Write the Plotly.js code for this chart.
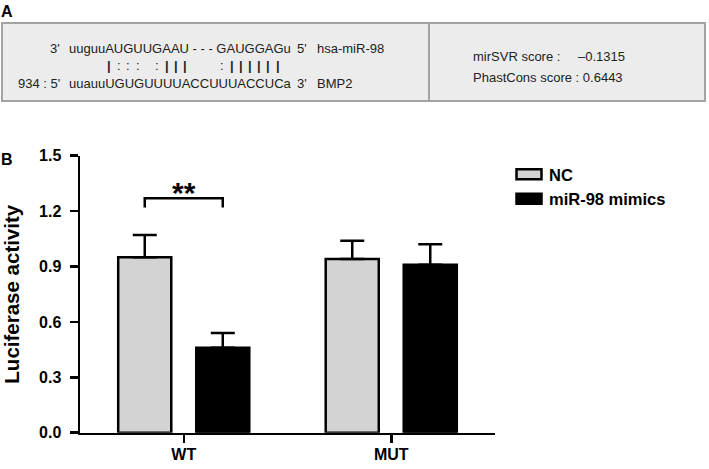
<!DOCTYPE html>
<html>
<head>
<meta charset="utf-8">
<script src="https://cdn.plot.ly/plotly-3.0.1.min.js"></script>
<style>html,body{margin:0;padding:0;background:#fff;}#chart{width:709px;height:469px;}</style>
</head>
<body>
<div id="chart"></div>
<script>
// ---- data ----
const categories = ['WT', 'MUT'];
const seriesNames = ['NC', 'miR-98 mimics'];
const ncValues = [0.95, 0.94];
const ncErrors = [0.12, 0.10];
const mimicValues = [0.46, 0.91];
const mimicErrors = [0.08, 0.11];
const yTickValues = [0.0, 0.3, 0.6, 0.9, 1.2, 1.5];
const sigLabel = '**';
const sigBracket = [1.22, 1.27]; // leg bottom, bracket top (y units)
const sigLabelY = 1.30;

// panel A text
const mirLine = ["3'", "uuguuAUGUUGAAU - - - GAUGGAGu", "5'", "hsa-miR-98"];
const targetLine = ["934 : 5'", "uuauuUGUGUUUUACCUUUACCUCa", "3'", "BMP2"];
const matchLine = "     |::: :|||   :|||||| ";
const scoreLabels = ["mirSVR score :", "PhastCons score : 0.6443"];
const scoreValue = "\u20130.1315";

// ---- layout helpers (figure pixel -> paper) ----
const W = 709, H = 469;
const px = x => x / W;
const py = y => 1 - y / H;
const FONT = 'Liberation Sans, Arial, Helvetica, sans-serif';
const black = '#000';

const bargap = 0.248;
const barOffset = (1 - bargap) / 4;

const traces = [
  {
    type: 'bar', name: seriesNames[0], x: categories, y: ncValues,
    marker: {color: '#d3d3d3', line: {color: black, width: 2.5}},
    error_y: {type: 'data', symmetric: false, array: ncErrors, arrayminus: [0, 0],
              color: black, thickness: 2.5, width: 12},
    legendgroup: 'a'
  },
  {
    type: 'bar', name: seriesNames[1], x: categories, y: mimicValues,
    marker: {color: '#000000', line: {color: black, width: 2.5}},
    error_y: {type: 'data', symmetric: false, array: mimicErrors, arrayminus: [0, 0],
              color: black, thickness: 2.5, width: 12},
    legendgroup: 'b'
  }
];

// canvas measure for alignment of pairing marks
const cv = document.createElement('canvas').getContext('2d');
cv.font = '13px "Liberation Sans", Arial, sans-serif';
const seqStartX = 68;
const shapes = [
  {type: 'rect', xref: 'paper', yref: 'paper', x0: px(2), x1: px(705), y0: py(101), y1: py(23),
   fillcolor: '#ececec', line: {color: '#a3a3a3', width: 2}, layer: 'below'},
  {type: 'line', xref: 'paper', yref: 'paper', x0: px(429), x1: px(429), y0: py(101), y1: py(23),
   line: {color: '#a3a3a3', width: 2}},
  {type: 'path', xref: 'x', yref: 'y',
   path: `M ${0 - barOffset},${sigBracket[0]} L ${0 - barOffset},${sigBracket[1]} L ${0 + barOffset},${sigBracket[1]} L ${0 + barOffset},${sigBracket[0]}`,
   line: {color: black, width: 2.5}}
];

const ann = [];
function txt(x, y, text, size, opts) {
  ann.push(Object.assign({xref: 'paper', yref: 'paper', x: px(x), y: py(y), text: text,
    showarrow: false, xanchor: 'left', yanchor: 'middle', borderpad: 0,
    font: {family: FONT, size: size, color: '#222'}}, opts || {}));
}
// panel labels
txt(0, 12, '<b>A</b>', 16, {font: {family: FONT, size: 16, color: black}});
txt(0, 160, '<b>B</b>', 16, {font: {family: FONT, size: 16, color: black}});
// sequences
txt(49, 48, mirLine[0], 13); txt(seqStartX, 48, mirLine[1], 13);
txt(296, 48, mirLine[2], 13); txt(316, 48, mirLine[3], 13);
txt(17, 83, targetLine[0], 13); txt(seqStartX, 83, targetLine[1], 13);
txt(296, 83, targetLine[2], 13); txt(316, 83, targetLine[3], 13);
// pairing marks, centred on target letters
for (let i = 0; i < matchLine.length; i++) {
  const ch = matchLine[i];
  if (ch === ' ') continue;
  const left = cv.measureText(targetLine[1].slice(0, i)).width;
  const w = cv.measureText(targetLine[1][i]).width;
  ann.push({xref: 'paper', yref: 'paper', x: px(seqStartX + left + w / 2), y: py(65),
    text: ch === '|' ? '<b>|</b>' : ':', showarrow: false, xanchor: 'center', yanchor: 'middle', borderpad: 0,
    font: {family: FONT, size: 13, color: '#222'}});
}
// scores
txt(472, 57, scoreLabels[0], 13); txt(577, 57, scoreValue, 13);
txt(472, 77, scoreLabels[1], 13);
// significance
ann.push({xref: 'x', yref: 'y', x: 0, y: sigLabelY, text: '<b>' + sigLabel + '</b>', showarrow: false,
  xanchor: 'center', yanchor: 'middle', borderpad: 0, font: {family: FONT, size: 30, color: black}});

const layout = {
  width: W, height: H,
  margin: {l: 0, r: 0, t: 0, b: 0},
  paper_bgcolor: '#fff', plot_bgcolor: '#fff',
  barmode: 'group', bargap: bargap, bargroupgap: 0.32,
  showlegend: true,
  legend: {x: px(509), y: py(157), xanchor: 'left', yanchor: 'top', tracegroupgap: 0,
           traceorder: 'grouped', bgcolor: 'rgba(0,0,0,0)',
           font: {family: FONT, size: 16.5, color: black, weight: 'bold'}},
  xaxis: {domain: [px(80), px(495)], type: 'category', range: [-0.5, 1.5],
          showline: true, linecolor: black, linewidth: 2.5,
          ticks: 'outside', ticklen: 8, tickwidth: 2.5, tickcolor: black,
          ticklabelstandoff: -2,
          tickfont: {family: FONT, size: 16, color: black, weight: 'bold'},
          showgrid: false, zeroline: false, automargin: false, fixedrange: true},
  yaxis: {domain: [py(432.7), py(155.7)], range: [0, 1.5],
          tickvals: yTickValues, tickformat: '.1f',
          showline: true, linecolor: black, linewidth: 2.5,
          ticks: 'outside', ticklen: 8, tickwidth: 2.5, tickcolor: black,
          ticklabelstandoff: 5,
          tickfont: {family: FONT, size: 16, color: black, weight: 'bold'},
          title: {text: 'Luciferase activity', standoff: 17,
                  font: {family: FONT, size: 20.5, color: black, weight: 'bold'}},
          showgrid: false, zeroline: false, automargin: false, fixedrange: true},
  shapes: shapes,
  annotations: ann
};

Plotly.newPlot('chart', traces, layout, {displayModeBar: false, staticPlot: true}).then(gd => {
  // widen the legend swatches to flat bars like the original key
  gd.querySelectorAll('.legend .legendpoints path').forEach(p => {
    p.setAttribute('d', 'M12.5,5H-12.5V-5H12.5Z');
  });
});
</script>
</body>
</html>
